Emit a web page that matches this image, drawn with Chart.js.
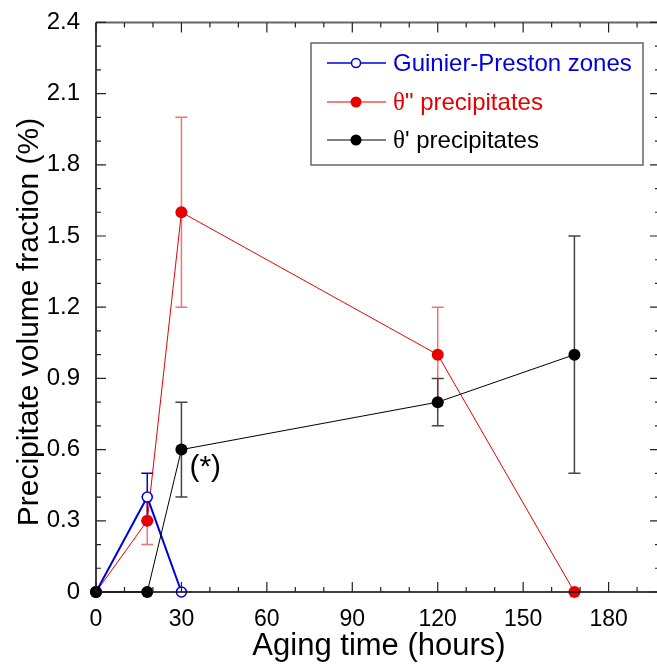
<!DOCTYPE html>
<html>
<head>
<meta charset="utf-8">
<script src="https://cdn.jsdelivr.net/npm/chart.js@4.4.1/dist/chart.umd.min.js"></script>
<style>
  html, body { margin: 0; padding: 0; background: #fff; }
  #wrap { width: 657px; height: 665px; }
</style>
</head>
<body>
<div id="wrap"><canvas id="myChart" width="657" height="665"></canvas></div>
<script>
// data
var gpHours = [0, 18, 30];
var gpFrac = [0, 0.4, 0];
var gpErr = [0, 0.1, 0];

var t2Hours = [0, 18, 30, 120, 168];
var t2Frac = [0, 0.3, 1.6, 1.0, 0];
var t2Err = [0, 0.1, 0.4, 0.2, 0];

var t1Hours = [0, 18, 30, 120, 168];
var t1Frac = [0, 0, 0.6, 0.8, 1.0];
var t1Err = [0, 0, 0.2, 0.1, 0.5];

var legendNames = ['Guinier-Preston zones', 'θ" precipitates', "θ' precipitates"];
var xTitle = 'Aging time (hours)';
var yTitle = 'Precipitate volume fraction (%)';
var note = '(*)';

var BLUE = '#0000dd', RED = '#e60000', BLACK = '#000000';
var FONT = '"Liberation Sans", Arial, Helvetica, sans-serif';

function pts(xs, ys) {
    return xs.map(function (x, i) { return { x: x, y: ys[i] }; });
}

var errorSets = [
    { xs: gpHours, ys: gpFrac, err: gpErr, color: BLUE, width: 1.5 },
    { xs: t1Hours, ys: t1Frac, err: t1Err, color: '#444444', width: 1.5 },
    { xs: t2Hours, ys: t2Frac, err: t2Err, color: 'rgba(230,0,0,0.55)', width: 1.5 }
];

var decor = {
    id: 'decor',
    beforeDatasetsDraw: function (chart) {
        var c = chart.ctx, xs = chart.scales.x, ys = chart.scales.y;
        c.save();
        errorSets.forEach(function (s) {
            c.strokeStyle = s.color;
            c.lineWidth = s.width;
            s.xs.forEach(function (h, i) {
                if (!s.err[i]) return;
                var px = xs.getPixelForValue(h);
                var top = ys.getPixelForValue(s.ys[i] + s.err[i]);
                var bot = ys.getPixelForValue(s.ys[i] - s.err[i]);
                c.beginPath();
                c.moveTo(px, top); c.lineTo(px, bot);
                c.moveTo(px - 6, top); c.lineTo(px + 6, top);
                c.moveTo(px - 6, bot); c.lineTo(px + 6, bot);
                c.stroke();
            });
        });
        c.restore();
    },
    afterDraw: function (chart) {
        var c = chart.ctx, a = chart.chartArea, xs = chart.scales.x, ys = chart.scales.y;
        c.save();
        // frame
        c.strokeStyle = '#666';
        c.lineWidth = 2;
        c.beginPath();
        c.moveTo(a.left, a.top); c.lineTo(a.right + 2, a.top);
        c.stroke();
        c.strokeStyle = '#000';
        c.lineWidth = 1.5;
        c.beginPath();
        c.moveTo(a.left, a.top); c.lineTo(a.left, a.bottom); c.lineTo(a.right + 2, a.bottom);
        c.stroke();
        // ticks
        c.lineWidth = 1.2;
        c.strokeStyle = '#222';
        c.beginPath();
        for (var h = 0; h <= 190; h += 10) {
            var px = xs.getPixelForValue(h);
            var len = (h % 30 === 0) ? 10 : 5;
            c.moveTo(px, a.bottom); c.lineTo(px, a.bottom - len);
            c.moveTo(px, a.top); c.lineTo(px, a.top + len);
        }
        for (var k = 0; k <= 24; k++) {
            var py = ys.getPixelForValue(k / 10);
            var l2 = (k % 3 === 0) ? 10 : 5;
            c.moveTo(a.left, py); c.lineTo(a.left + l2, py);
            c.moveTo(a.right, py); c.lineTo(a.right - l2 + 3, py);
        }
        c.stroke();

        // axis titles
        c.fillStyle = '#000';
        c.font = '31px ' + FONT;
        c.textAlign = 'center';
        c.textBaseline = 'alphabetic';
        c.fillText(xTitle, 379, 655);
        c.font = '30px ' + FONT;
        c.save();
        c.translate(38, 322);
        c.rotate(-Math.PI / 2);
        c.fillText(yTitle, 0, 0);
        c.restore();

        // annotation next to the theta' point at 30 h
        c.font = '30px ' + FONT;
        c.textAlign = 'left';
        c.textBaseline = 'middle';
        c.fillText(note, xs.getPixelForValue(30) + 8, ys.getPixelForValue(0.6) + 18);

        // legend box
        c.fillStyle = '#fff';
        c.fillRect(311, 43, 332, 122);
        c.strokeStyle = '#666';
        c.lineWidth = 1.5;
        c.strokeRect(311, 43, 332, 122);
        var rows = [
            { y: 63, color: BLUE, open: true, lw: 1.5 },
            { y: 102, color: RED, open: false, lw: 1 },
            { y: 140, color: BLACK, open: false, lw: 1 }
        ];
        rows.forEach(function (r, i) {
            c.strokeStyle = r.color;
            c.lineWidth = r.lw;
            c.beginPath();
            c.moveTo(327, r.y); c.lineTo(386, r.y);
            c.stroke();
            c.beginPath();
            c.arc(356, r.y, r.open ? 4.5 : 5.5, 0, Math.PI * 2);
            if (r.open) { c.fillStyle = '#fff'; c.fill(); c.stroke(); }
            else { c.fillStyle = r.color; c.fill(); }
            c.fillStyle = r.color;
            c.textAlign = 'left';
            c.textBaseline = 'middle';
            var txt = legendNames[i];
            var x0 = 393;
            if (txt.charAt(0) === 'θ') {
                c.font = '25px "Liberation Serif", "Times New Roman", serif';
                c.fillText('θ', x0, r.y + 1);
                x0 += c.measureText('θ').width;
                txt = txt.slice(1);
            }
            c.font = '24px ' + FONT;
            c.fillText(txt, x0, r.y + 1);
        });
        c.restore();
    }
};

var ctx = document.getElementById('myChart').getContext('2d');
var chart = new Chart(ctx, {
    type: 'line',
    data: {
        datasets: [
            {
                label: legendNames[2],
                data: pts(t1Hours, t1Frac),
                borderColor: BLACK,
                backgroundColor: BLACK,
                borderWidth: 1,
                pointRadius: 6,
                pointBorderWidth: 0,
                order: 0
            },
            {
                label: legendNames[0],
                data: pts(gpHours, gpFrac),
                borderColor: BLUE,
                backgroundColor: '#ffffff',
                pointBackgroundColor: '#ffffff',
                borderWidth: 2,
                pointRadius: 5,
                pointBorderWidth: 1.5,
                order: 1
            },
            {
                label: legendNames[1],
                data: pts(t2Hours, t2Frac),
                borderColor: RED,
                backgroundColor: RED,
                borderWidth: 1,
                pointRadius: 6,
                pointBorderWidth: 0,
                order: 2
            }
        ]
    },
    options: {
        responsive: false,
        animation: false,
        events: [],
        clip: false,
        layout: { autoPadding: false, padding: { left: 0, right: 0, top: 20, bottom: 0 } },
        plugins: { legend: { display: false }, tooltip: { enabled: false } },
        scales: {
            x: {
                type: 'linear',
                min: 0,
                max: 197,
                grid: { display: false },
                border: { display: false },
                ticks: {
                    stepSize: 30,
                    includeBounds: false,
                    padding: 6,
                    color: '#000',
                    maxRotation: 0,
                    font: { family: FONT, size: 23 }
                },
                afterFit: function (s) { s.height = 73; }
            },
            y: {
                min: 0,
                max: 2.4,
                grid: { display: false },
                border: { display: false },
                ticks: {
                    stepSize: 0.3,
                    padding: 8,
                    color: '#000',
                    font: { family: FONT, size: 24 },
                    callback: function (v) { return Math.abs(v) < 1e-9 ? '0' : v.toFixed(1); }
                },
                afterFit: function (s) { s.width = 96; }
            }
        }
    },
    plugins: [decor]
});
</script>
</body>
</html>
